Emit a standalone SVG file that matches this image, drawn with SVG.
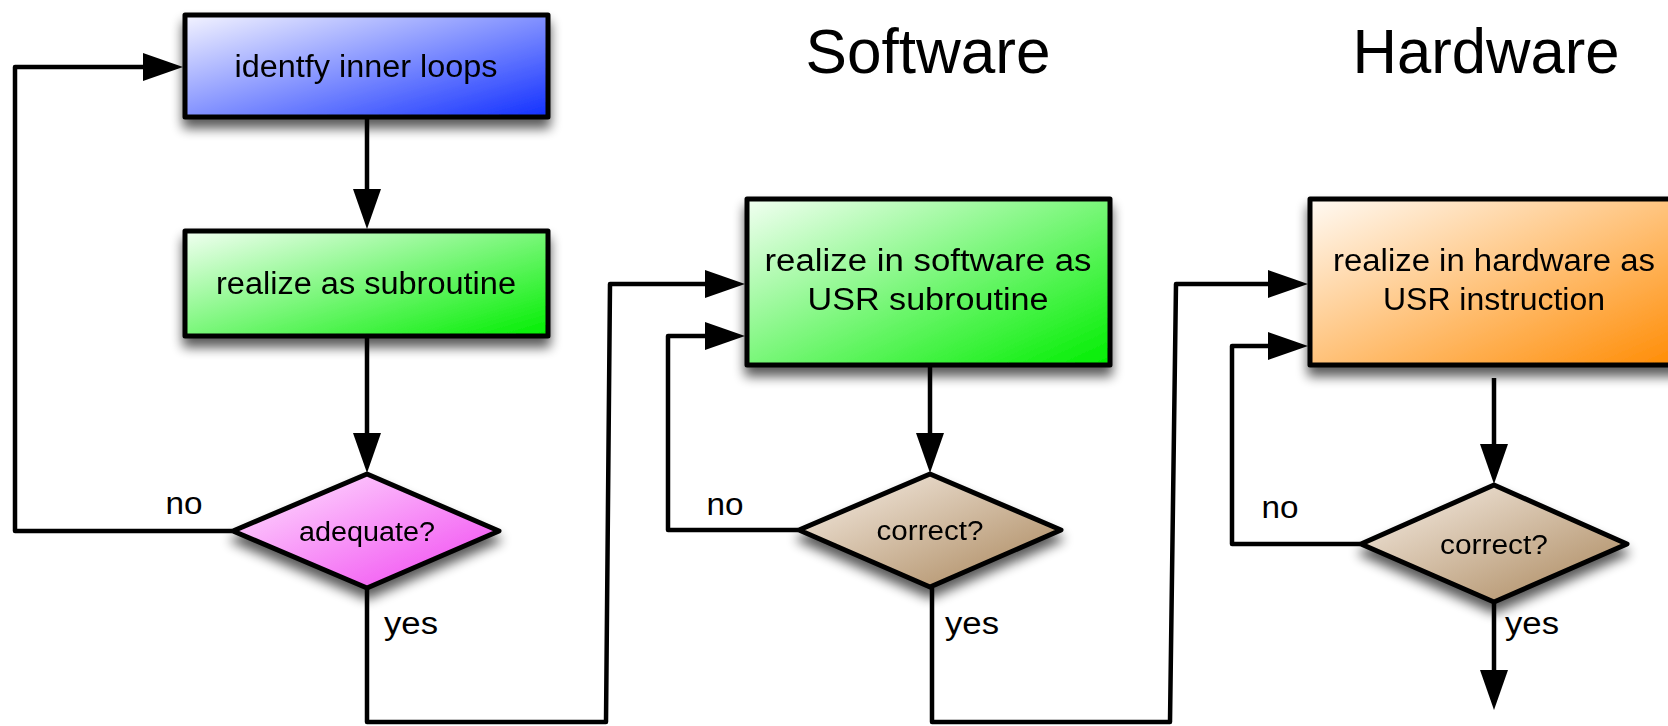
<svg xmlns="http://www.w3.org/2000/svg" width="1668" height="726" viewBox="0 0 1668 726">
  <style>
    .box { stroke: #000; stroke-width: 5; stroke-linejoin: round; }
    .lbl { font-family: "Liberation Sans", Arial, Helvetica, sans-serif; fill: #000; }
    .node { font-size: 31px; text-anchor: middle; }
    .dec { font-size: 27px; text-anchor: middle; }
    .ans { font-size: 31px; }
    .title { font-size: 63px; text-anchor: middle; }
    .wire { fill: none; stroke: #000; stroke-width: 4.5; stroke-linejoin: round; }
  </style>
  <defs>
    <linearGradient id="gBlue" x1="0" y1="0" x2="1" y2="1">
      <stop offset="0" stop-color="#f4f4ff"/>
      <stop offset="1" stop-color="#1230ff"/>
    </linearGradient>
    <linearGradient id="gGreen" x1="0" y1="0" x2="1" y2="1">
      <stop offset="0" stop-color="#f2fff2"/>
      <stop offset="1" stop-color="#00ee00"/>
    </linearGradient>
    <linearGradient id="gPink" x1="0" y1="0" x2="1" y2="1">
      <stop offset="0" stop-color="#ffe6ff"/>
      <stop offset="1" stop-color="#f040f0"/>
    </linearGradient>
    <linearGradient id="gTan" x1="0" y1="0" x2="1" y2="1">
      <stop offset="0" stop-color="#f8f0e8"/>
      <stop offset="1" stop-color="#a88458"/>
    </linearGradient>
    <linearGradient id="gOrange" x1="0" y1="0" x2="1" y2="1">
      <stop offset="0" stop-color="#fffaf4"/>
      <stop offset="1" stop-color="#ff8a00"/>
    </linearGradient>
    <filter id="shadow" x="-15%" y="-20%" width="130%" height="150%">
      <feGaussianBlur in="SourceAlpha" stdDeviation="6"/>
      <feOffset dx="0" dy="9" result="blur"/>
      <feComponentTransfer>
        <feFuncA type="linear" slope="0.65"/>
      </feComponentTransfer>
      <feMerge>
        <feMergeNode/>
        <feMergeNode in="SourceGraphic"/>
      </feMerge>
    </filter>
    <marker id="arrow" markerUnits="userSpaceOnUse" markerWidth="42" markerHeight="30" refX="0" refY="14" orient="auto">
      <path d="M0,0 L40,14 L0,28 Z" fill="#000"/>
    </marker>
  </defs>

  <!-- column headings -->
  <text class="lbl title" x="928" y="73" textLength="245" lengthAdjust="spacingAndGlyphs">Software</text>
  <text class="lbl title" x="1486" y="73" textLength="267" lengthAdjust="spacingAndGlyphs">Hardware</text>

  <!-- connectors -->
  <g id="connectors">
    <path class="wire" d="M367,119 L367,189" marker-end="url(#arrow)"/>
    <path class="wire" d="M367,338 L367,433" marker-end="url(#arrow)"/>
    <path class="wire" d="M232,531 L15,531 L15,67 L143,67" marker-end="url(#arrow)"/>
    <path class="wire" d="M367,588 L367,722 L606,722 L610,284 L705,284" marker-end="url(#arrow)"/>
    <path class="wire" d="M930,367 L930,433" marker-end="url(#arrow)"/>
    <path class="wire" d="M798,530 L668,530 L668,336 L705,336" marker-end="url(#arrow)"/>
    <path class="wire" d="M932,588 L932,722 L1170,722 L1176,284 L1268,284" marker-end="url(#arrow)"/>
    <path class="wire" d="M1494,378 L1494,444" marker-end="url(#arrow)"/>
    <path class="wire" d="M1360,544 L1232,544 L1232,346 L1268,346" marker-end="url(#arrow)"/>
    <path class="wire" d="M1494,603 L1494,670" marker-end="url(#arrow)"/>
    <text class="lbl ans" x="184" y="514" text-anchor="middle" textLength="37" lengthAdjust="spacingAndGlyphs">no</text>
    <text class="lbl ans" x="384" y="634" textLength="54" lengthAdjust="spacingAndGlyphs">yes</text>
    <text class="lbl ans" x="725" y="515" text-anchor="middle" textLength="37" lengthAdjust="spacingAndGlyphs">no</text>
    <text class="lbl ans" x="945" y="634" textLength="54" lengthAdjust="spacingAndGlyphs">yes</text>
    <text class="lbl ans" x="1280" y="518" text-anchor="middle" textLength="37" lengthAdjust="spacingAndGlyphs">no</text>
    <text class="lbl ans" x="1505" y="634" textLength="54" lengthAdjust="spacingAndGlyphs">yes</text>
  </g>

  <!-- process steps -->
  <g id="identify" filter="url(#shadow)">
    <rect class="box" x="185" y="15" width="363" height="102" fill="url(#gBlue)"/>
    <text class="lbl node" x="366" y="77" textLength="263" lengthAdjust="spacingAndGlyphs">identfy inner loops</text>
  </g>
  <g id="subroutine" filter="url(#shadow)">
    <rect class="box" x="185" y="231" width="363" height="105" fill="url(#gGreen)"/>
    <text class="lbl node" x="366" y="294" textLength="300" lengthAdjust="spacingAndGlyphs">realize as subroutine</text>
  </g>
  <g id="adequate" filter="url(#shadow)">
    <polygon class="box" points="367,474 499,531 367,588 233,531" fill="url(#gPink)"/>
    <text class="lbl dec" x="367" y="541" textLength="136" lengthAdjust="spacingAndGlyphs">adequate?</text>
  </g>

  <g id="software" filter="url(#shadow)">
    <rect class="box" x="747" y="199" width="363" height="166" fill="url(#gGreen)"/>
    <text class="lbl node" x="928" y="271" textLength="327" lengthAdjust="spacingAndGlyphs">realize in software as</text>
    <text class="lbl node" x="928" y="310" textLength="241" lengthAdjust="spacingAndGlyphs">USR subroutine</text>
  </g>
  <g id="swCorrect" filter="url(#shadow)">
    <polygon class="box" points="930,474 1061,530 930,587 799,530" fill="url(#gTan)"/>
    <text class="lbl dec" x="930" y="540" textLength="107" lengthAdjust="spacingAndGlyphs">correct?</text>
  </g>

  <g id="hardware" filter="url(#shadow)">
    <rect class="box" x="1310" y="199" width="380" height="166" fill="url(#gOrange)"/>
    <text class="lbl node" x="1494" y="271" textLength="322" lengthAdjust="spacingAndGlyphs">realize in hardware as</text>
    <text class="lbl node" x="1494" y="310" textLength="222" lengthAdjust="spacingAndGlyphs">USR instruction</text>
  </g>
  <g id="hwCorrect" filter="url(#shadow)">
    <polygon class="box" points="1494,485 1627,544 1494,602 1361,544" fill="url(#gTan)"/>
    <text class="lbl dec" x="1494" y="554" textLength="108" lengthAdjust="spacingAndGlyphs">correct?</text>
  </g>
</svg>
